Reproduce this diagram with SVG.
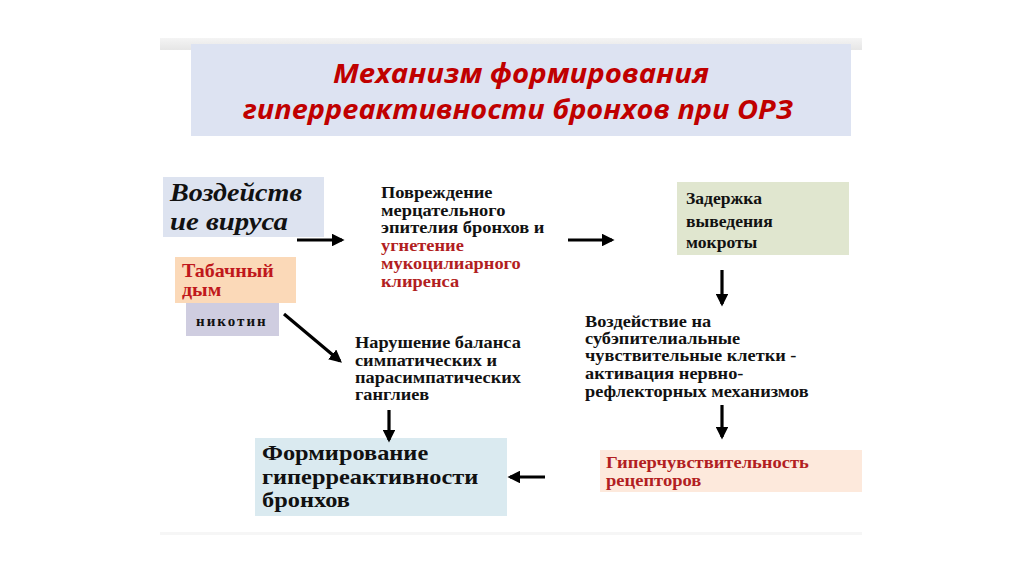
<svg xmlns="http://www.w3.org/2000/svg" width="1024" height="574" viewBox="0 0 1024 574">
<defs>
<marker id="ah" markerWidth="4" markerHeight="4" refX="3.2" refY="2" orient="auto" markerUnits="strokeWidth">
<path d="M0,0 L4,2 L0,4 Z" fill="#000"/>
</marker>
<linearGradient id="band" x1="0" y1="0" x2="0" y2="1">
<stop offset="0" stop-color="#f4f4f4"/>
<stop offset="1" stop-color="#e6e6e6"/>
</linearGradient>
</defs>
<style>
.t{font-family:"Liberation Serif","Times New Roman",serif;font-weight:bold;fill:#111}
.red{fill:#c0181c}
.dred{fill:#b21e22}
.ttl{font-family:"Open Sans","Liberation Sans",sans-serif;font-weight:bold;font-style:italic;fill:#c00000;font-size:27px}
.arr{stroke:#000;stroke-width:3.2;fill:none;marker-end:url(#ah)}
</style>
<rect width="1024" height="574" fill="#fff"/>
<rect x="160" y="38" width="702" height="12" fill="url(#band)"/>
<rect x="160" y="532" width="702" height="3" fill="#f6f6f6"/>
<g id="title">
<rect x="191" y="44" width="660" height="92" fill="#dde3f2"/>
<text class="ttl" x="521" y="83" text-anchor="middle" textLength="376" lengthAdjust="spacingAndGlyphs">Механизм формирования</text>
<text class="ttl" x="518" y="119" text-anchor="middle" textLength="550" lengthAdjust="spacingAndGlyphs">гиперреактивности бронхов при ОРЗ</text>
</g>
<g id="virus">
<rect x="163" y="177" width="161" height="60" fill="#dde3f0"/>
<text class="t" style="font-style:italic;font-size:26px" x="170" y="201" textLength="132" lengthAdjust="spacingAndGlyphs">Воздейств</text>
<text class="t" style="font-style:italic;font-size:26px" x="170" y="230" textLength="118" lengthAdjust="spacingAndGlyphs">ие вируса</text>
</g>
<g id="smoke">
<rect x="175" y="257" width="121" height="46" fill="#fbd9b8"/>
<g transform="translate(182 0) scale(1.11 1)">
<text class="t red" style="font-size:18px" x="0" y="277">Табачный</text>
<text class="t red" style="font-size:18px" x="0" y="296">дым</text>
</g>
</g>
<g id="nicotine">
<rect x="186" y="303" width="93" height="33" fill="#cfcde0"/>
<text class="t" style="font-size:15px;letter-spacing:2px" x="196" y="326">никотин</text>
</g>
<g id="damage">
<g transform="translate(381 0) scale(1.15 1)">
<text class="t" style="font-size:16px" x="0" y="198">Повреждение</text>
<text class="t" style="font-size:16px" x="0" y="216">мерцательного</text>
<text class="t" style="font-size:16px" x="0" y="233">эпителия бронхов и</text>
<text class="t dred" style="font-size:16px" x="0" y="251">угнетение</text>
<text class="t dred" style="font-size:16px" x="0" y="269">мукоцилиарного</text>
<text class="t dred" style="font-size:16px" x="0" y="287">клиренса</text>
</g>
</g>
<g id="sputum">
<rect x="677" y="182" width="172" height="73" fill="#e0e6cf"/>
<g transform="translate(686 0) scale(1.1 1)">
<text class="t" style="font-size:16px" x="0" y="204">Задержка</text>
<text class="t" style="font-size:16px" x="0" y="227">выведения</text>
<text class="t" style="font-size:16px" x="0" y="248">мокроты</text>
</g>
</g>
<g id="receptors-act">
<g transform="translate(585 0) scale(1.11 1)">
<text class="t" style="font-size:16.5px" x="0" y="327">Воздействие на</text>
<text class="t" style="font-size:16.5px" x="0" y="344">субэпителиальные</text>
<text class="t" style="font-size:16.5px" x="0" y="361">чувствительные клетки -</text>
<text class="t" style="font-size:16.5px" x="0" y="379">активация нервно-</text>
<text class="t" style="font-size:16.5px" x="0" y="397">рефлекторных механизмов</text>
</g>
</g>
<g id="balance">
<g transform="translate(355 0) scale(1.11 1)">
<text class="t" style="font-size:16.5px" x="0" y="348">Нарушение баланса</text>
<text class="t" style="font-size:16.5px" x="0" y="366">симпатических и</text>
<text class="t" style="font-size:16.5px" x="0" y="383">парасимпатических</text>
<text class="t" style="font-size:16.5px" x="0" y="400">ганглиев</text>
</g>
</g>
<g id="hypersens">
<rect x="600" y="450" width="262" height="42" fill="#fde9dc"/>
<g transform="translate(606 0) scale(1.09 1)">
<text class="t dred" style="font-size:17px" x="0" y="468">Гиперчувствительность</text>
<text class="t dred" style="font-size:17px" x="0" y="486">рецепторов</text>
</g>
</g>
<g id="hyperreact">
<rect x="255" y="438" width="252" height="78" fill="#daeaf0"/>
<g transform="translate(262 0) scale(1.16 1)">
<text class="t" style="font-size:21px" x="0" y="460">Формирование</text>
<text class="t" style="font-size:21px" x="0" y="484">гиперреактивности</text>
<text class="t" style="font-size:21px" x="0" y="507">бронхов</text>
</g>
</g>
<g id="connectors">
<line class="arr" x1="297" y1="240" x2="342" y2="240"/>
<line class="arr" x1="568" y1="240" x2="612" y2="240"/>
<line class="arr" x1="722" y1="270" x2="722" y2="304"/>
<line class="arr" x1="722" y1="405" x2="722" y2="437"/>
<line class="arr" x1="545" y1="477" x2="510" y2="477"/>
<line class="arr" x1="389" y1="410" x2="389" y2="440"/>
<line class="arr" x1="284" y1="314" x2="340" y2="361"/>
</g>
</svg>
